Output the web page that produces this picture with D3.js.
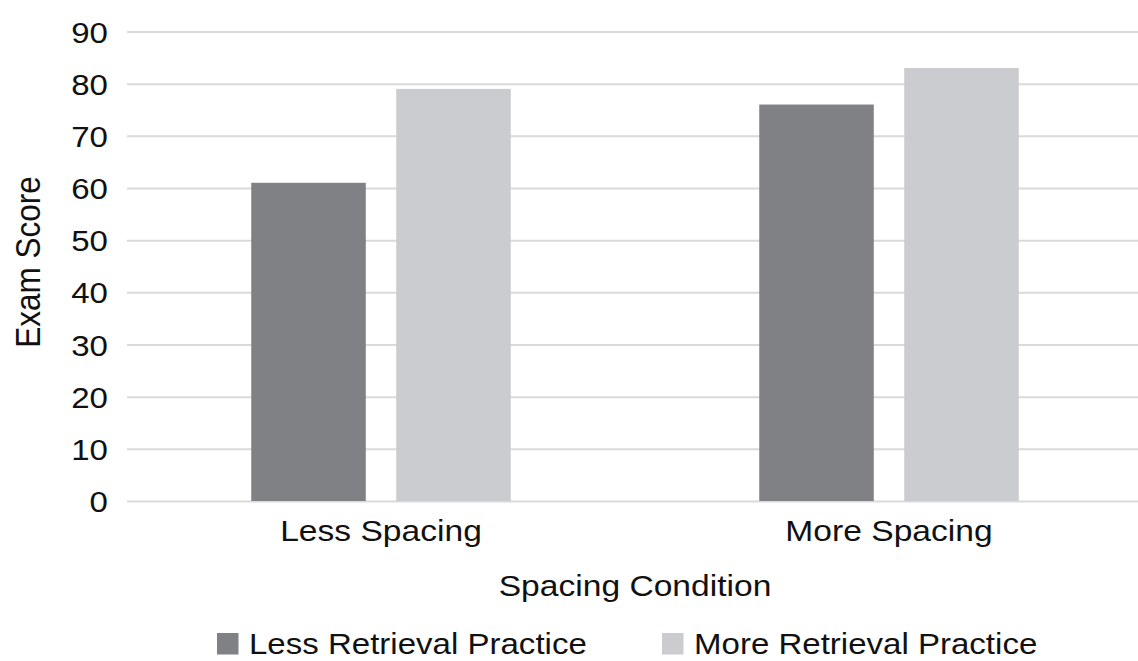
<!DOCTYPE html>
<html>
<head>
<meta charset="utf-8">
<script src="https://cdn.jsdelivr.net/npm/d3@7"></script>
<style>
  html, body { margin: 0; padding: 0; background: #fff; }
  svg { display: block; font-family: "Liberation Sans", Arial, Helvetica, sans-serif; }
</style>
</head>
<body>
<div id="chart"></div>
<script>
// data
var categories = ["Less Spacing", "More Spacing"];
var seriesNames = ["Less Retrieval Practice", "More Retrieval Practice"];
var lessRetrieval = [61, 76];
var moreRetrieval = [79, 83];
var yTicks = [0, 10, 20, 30, 40, 50, 60, 70, 80, 90];

var colors = ["#808185", "#cbcccf"];
var sx = 1.12; // text in the source looks a bit wide

const W = 1138, H = 661;
const margin = {top: 31.5, left: 127};
const plotW = 1016, plotH = 469.5;

const svg = d3.select("#chart").append("svg")
    .attr("width", W)
    .attr("height", H);

const g = svg.append("g")
    .attr("transform", `translate(${margin.left},${margin.top})`);

const y = d3.scaleLinear().domain([0, 90]).range([plotH, 0]);

const x0 = d3.scaleBand().domain(categories).range([0, plotW]);
const x1 = d3.scaleBand().domain(seriesNames)
    .range([0, x0.bandwidth()])
    .paddingInner(0.21)
    .paddingOuter(0.857);

// gridlines + tick labels
const yAxis = g.append("g")
    .call(d3.axisLeft(y).tickValues(yTicks).tickSize(-plotW).tickFormat(d3.format("d")));
yAxis.select(".domain").remove();
yAxis.selectAll(".tick line").attr("stroke", "#dadada").attr("stroke-width", 2);
yAxis.selectAll(".tick text")
    .attr("x", 0).attr("dy", "0.36em")
    .attr("transform", `translate(-19,0) scale(${sx},1)`)
    .attr("font-size", 29.5)
    .attr("fill", "#111");

// bars
const rows = categories.map((c, i) => ({cat: c, vals: [lessRetrieval[i], moreRetrieval[i]]}));

const groups = g.selectAll(".grp")
    .data(rows)
    .join("g")
    .attr("class", "grp")
    .attr("transform", d => `translate(${x0(d.cat)},0)`);

groups.selectAll("rect")
    .data(d => d.vals.map((v, j) => ({name: seriesNames[j], value: v, j: j})))
    .join("rect")
    .attr("x", d => x1(d.name))
    .attr("y", d => y(d.value))
    .attr("width", x1.bandwidth())
    .attr("height", d => y(0) - y(d.value))
    .attr("fill", d => colors[d.j]);

// category labels
const xAxis = g.append("g")
    .attr("transform", `translate(0,${plotH})`)
    .call(d3.axisBottom(x0).tickSize(0));
xAxis.select(".domain").remove();
xAxis.selectAll(".tick text")
    .attr("y", 0).attr("dy", 0)
    .attr("transform", `translate(0,40) scale(${sx},1)`)
    .attr("font-size", 30)
    .attr("fill", "#111");

// axis titles
svg.append("text")
    .attr("transform", `translate(635,596) scale(${sx},1)`)
    .attr("text-anchor", "middle")
    .attr("font-size", 30)
    .attr("fill", "#111")
    .text("Spacing Condition");

svg.append("text")
    .attr("transform", `translate(40,262) scale(${sx},1) rotate(-90)`)
    .attr("text-anchor", "middle")
    .attr("font-size", 31.5)
    .attr("fill", "#111")
    .text("Exam Score");

// legend
var legendX = [217, 662];
const legend = svg.selectAll(".leg")
    .data(seriesNames)
    .join("g")
    .attr("class", "leg")
    .attr("transform", (d, i) => `translate(${legendX[i]},633)`);

legend.append("rect")
    .attr("width", 21.5)
    .attr("height", 21.5)
    .attr("fill", (d, i) => colors[i]);

legend.append("text")
    .attr("transform", `translate(32,21) scale(${sx},1)`)
    .attr("font-size", 29.5)
    .attr("fill", "#111")
    .text(d => d);
</script>
</body>
</html>
